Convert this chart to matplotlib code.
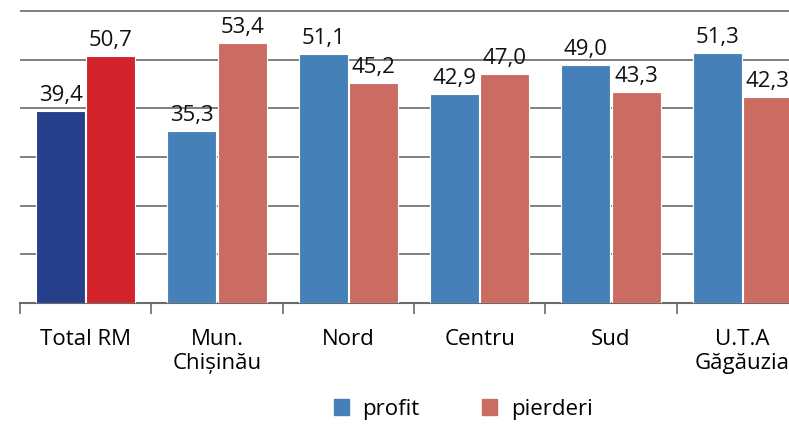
import matplotlib.pyplot as plt
import numpy as np
from matplotlib.patches import Patch

# Data
categories = ["Total RM", "Mun.\nChișinău", "Nord", "Centru", "Sud", "U.T.A\nGăgăuzia"]
profit = [39.4, 35.3, 51.1, 42.9, 49.0, 51.3]
pierderi = [50.7, 53.4, 45.2, 47.0, 43.3, 42.3]

plt.rcParams['font.family'] = ['Open Sans', 'DejaVu Sans']

blue = '#4680b8'
salmon = '#cb6c63'
blue_total = '#253f8b'
red_total = '#d2232a'

fig = plt.figure(figsize=(7.89, 4.27), dpi=100)
# axes extends past the right edge, like the cropped original
ax = fig.add_axes([20 / 789, 123 / 427, 788 / 789, 304 / 427])

x = np.arange(len(categories))
w = 0.375
c_profit = [blue_total] + [blue] * (len(x) - 1)
c_pierderi = [red_total] + [salmon] * (len(x) - 1)

b1 = ax.bar(x - w / 2 - 0.004, profit, w, color=c_profit, edgecolor='white', linewidth=0.8, zorder=3)
b2 = ax.bar(x + w / 2 + 0.004, pierderi, w, color=c_pierderi, edgecolor='white', linewidth=0.8, zorder=3)

for bars, vals in [(b1, profit), (b2, pierderi)]:
    for bar, v in zip(bars, vals):
        ax.annotate(f"{v:.1f}".replace('.', ','),
                    (bar.get_x() + bar.get_width() / 2, v),
                    xytext=(0, 8), textcoords='offset points',
                    ha='center', va='baseline', fontsize=16, color='#111111')

ax.set_xlim(-0.5, len(x) - 0.5)
ax.set_ylim(0, 62.5)

# gridlines
ax.set_yticks([10, 20, 30, 40, 50, 60])
ax.yaxis.grid(True, color='#6a6a6a', linewidth=1.2, zorder=0)
ax.tick_params(axis='y', left=False, labelleft=False)

# category ticks at boundaries, labels at centres
ax.set_xticks(np.arange(len(x) + 1) - 0.5)
ax.set_xticklabels([])
ax.set_xticks(x, minor=True)
ax.set_xticklabels(categories, minor=True, fontsize=16, linespacing=1.2)
ax.tick_params(axis='x', which='major', direction='out', length=8, width=1.2, color='#6a6a6a')
ax.tick_params(axis='x', which='minor', length=0, pad=18)

for s in ['top', 'right', 'left']:
    ax.spines[s].set_visible(False)
ax.spines['bottom'].set_color('#6a6a6a')
ax.spines['bottom'].set_linewidth(1.5)

handles = [Patch(color=blue, label='profit'), Patch(color=salmon, label='pierderi')]
fig.legend(handles=handles, loc='center', bbox_to_anchor=(463 / 789, 1 - 410 / 427),
           ncol=2, frameon=False, fontsize=16, handlelength=0.7, handleheight=0.7,
           handletextpad=0.6, columnspacing=2.8)

fig.savefig('out.png', dpi=100)
